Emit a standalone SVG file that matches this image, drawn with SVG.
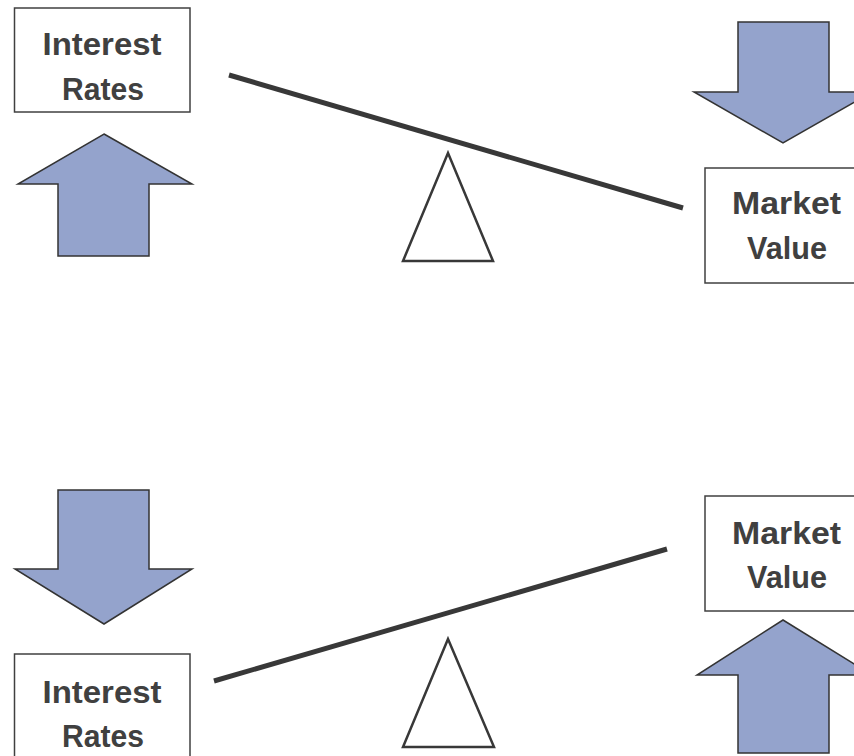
<svg xmlns="http://www.w3.org/2000/svg" width="854" height="756" viewBox="0 0 854 756">
<style>
.box{fill:#fff;stroke:#404040;stroke-width:1.5}
.arrow{fill:#94A3CC;stroke:#333;stroke-width:1.5;stroke-linejoin:miter}
.lever{stroke:#383838;stroke-width:5;fill:none}
.fulcrum{fill:#fff;stroke:#383838;stroke-width:2.5}
.lbl{font-family:"Liberation Sans",Arial,sans-serif;font-weight:bold;font-size:31px;fill:#404040;text-anchor:middle}
</style>
<rect width="854" height="756" fill="#fff"/>
<g id="top-interest-rates">
<rect class="box" x="14.5" y="8" width="175.5" height="104"/>
<text class="lbl" x="102" y="55" textLength="119" lengthAdjust="spacingAndGlyphs">Interest</text>
<text class="lbl" x="103" y="100" textLength="82" lengthAdjust="spacingAndGlyphs">Rates</text>
</g>
<g id="top-up-arrow">
<polygon class="arrow" points="104,134 192,184 149,184 149,256 58,256 58,184 18,184"/>
</g>
<g id="top-fulcrum">
<polygon class="fulcrum" points="448,153 493,261 403,261"/>
</g>
<g id="top-down-arrow">
<polygon class="arrow" points="738,22 829,22 829,92 872,92 783,143 694,92 738,92"/>
</g>
<g id="top-market-value">
<rect class="box" x="705" y="168" width="163" height="115"/>
<text class="lbl" x="786.5" y="214" textLength="109" lengthAdjust="spacingAndGlyphs">Market</text>
<text class="lbl" x="787" y="259" textLength="80" lengthAdjust="spacingAndGlyphs">Value</text>
</g>
<g id="bottom-down-arrow">
<polygon class="arrow" points="58,490 149,490 149,569 192,569 104,624 15,569 58,569"/>
</g>
<g id="bottom-interest-rates">
<rect class="box" x="14.5" y="654" width="175.5" height="120"/>
<text class="lbl" x="102" y="703" textLength="119" lengthAdjust="spacingAndGlyphs">Interest</text>
<text class="lbl" x="103" y="747" textLength="82" lengthAdjust="spacingAndGlyphs">Rates</text>
</g>
<g id="bottom-fulcrum">
<polygon class="fulcrum" points="448,639 494,747 403,747"/>
</g>
<g id="bottom-market-value">
<rect class="box" x="705" y="496" width="163" height="115"/>
<text class="lbl" x="786.5" y="544" textLength="109" lengthAdjust="spacingAndGlyphs">Market</text>
<text class="lbl" x="787" y="588" textLength="80" lengthAdjust="spacingAndGlyphs">Value</text>
</g>
<g id="bottom-up-arrow">
<polygon class="arrow" points="783,620 872,675 829,675 829,753 738,753 738,675 697,675"/>
</g>
<g id="connectors">
<line class="lever" x1="229" y1="75" x2="683" y2="208"/>
<line class="lever" x1="214" y1="681" x2="667" y2="549"/>
</g>
</svg>
